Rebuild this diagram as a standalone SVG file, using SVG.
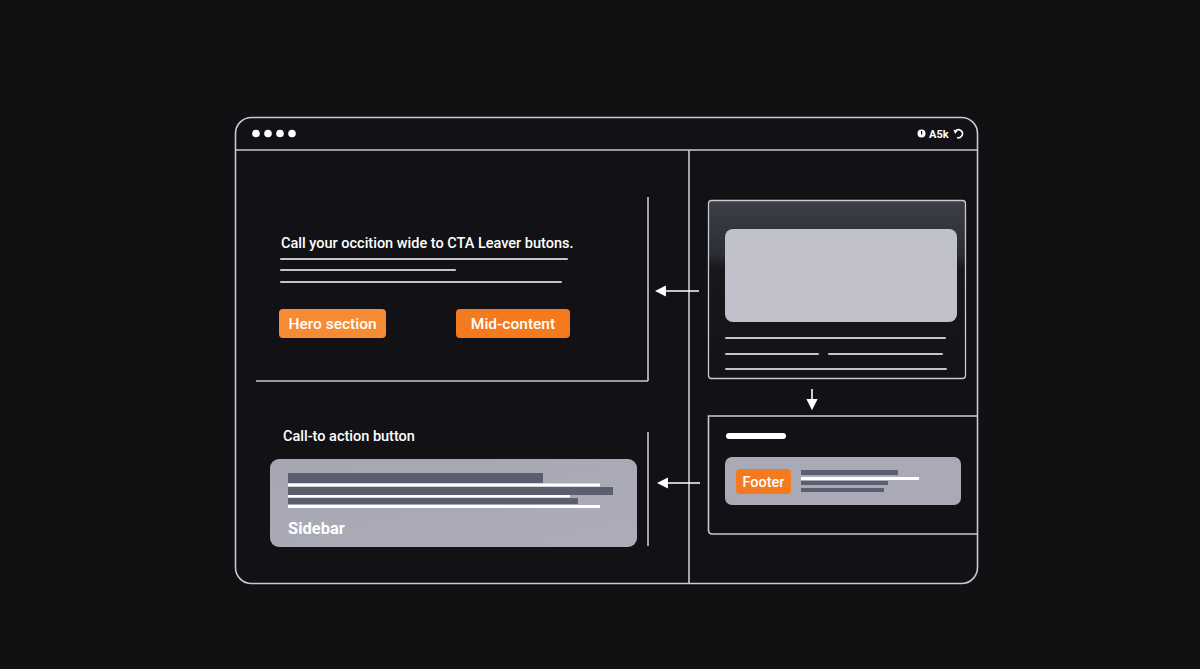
<svg xmlns="http://www.w3.org/2000/svg" width="1200" height="669" viewBox="0 0 1200 669">
<defs>
<style>
.ln{stroke:#c9c9ce;stroke-width:1.6;fill:none}
.tl{stroke:#c4c4ca;stroke-width:2;stroke-linecap:round}
.t{font-family:Roboto,"Liberation Sans",sans-serif;fill:#ffffff;font-weight:500}
.dk{fill:#5b5e6f}
.wh{fill:#ffffff}
</style>
<marker id="ah" viewBox="0 0 10 10" refX="8" refY="5" markerWidth="7" markerHeight="7" orient="auto-start-reverse">
<path d="M0,0 L10,5 L0,10 z" fill="#ffffff"/>
</marker>
<linearGradient id="topg" x1="0" y1="0" x2="0" y2="1">
<stop offset="0" stop-color="#3d3f48"/>
<stop offset="0.3" stop-color="#2c2e35"/>
<stop offset="0.38" stop-color="#17181c"/>
<stop offset="1" stop-color="#131317"/>
</linearGradient>
<linearGradient id="sbg" x1="0" y1="0" x2="1" y2="1">
<stop offset="0" stop-color="#a6a7b3"/>
<stop offset="1" stop-color="#acadb8"/>
</linearGradient>
</defs>
<rect width="1200" height="669" fill="#111114"/>

<g id="frame">
<rect x="235.5" y="117.5" width="742" height="466" rx="16" class="ln" style="fill:#121216"/>
<line x1="235" y1="150" x2="978" y2="150" class="ln"/>
<line x1="689" y1="150" x2="689" y2="584" class="ln"/>
<circle cx="256" cy="133.5" r="3.8" fill="#fff"/>
<circle cx="268" cy="133.5" r="3.8" fill="#fff"/>
<circle cx="280" cy="133.5" r="3.8" fill="#fff"/>
<circle cx="292" cy="133.5" r="3.8" fill="#fff"/>
<circle cx="921.5" cy="133.5" r="4" fill="#fff"/>
<rect x="921" y="131" width="1.2" height="3.5" fill="#121216"/>
<text x="929" y="137.5" class="t" font-size="11" style="font-weight:700">A5k</text>
<path d="M955.5,131 A4,4 0 1 1 957,137.5" stroke="#fff" stroke-width="1.6" fill="none"/>
<path d="M953.5,129.5 L957.5,131 L955,134 z" fill="#fff"/>
</g>

<g id="hero-area">
<line x1="256" y1="381" x2="648" y2="381" class="ln"/>
<line x1="648" y1="197" x2="648" y2="381" class="ln"/>
<text x="281" y="248" class="t" font-size="14.5">Call your occition wide to CTA Leaver butons.</text>
<line x1="281" y1="259" x2="567" y2="259" class="tl"/>
<line x1="281" y1="270" x2="455" y2="270" class="tl"/>
<line x1="281" y1="282" x2="561" y2="282" class="tl"/>
</g>

<g id="hero-section">
<rect x="279" y="309" width="107" height="29" rx="4" fill="#f58b33"/>
<text x="332.5" y="329" class="t" font-size="15.5" text-anchor="middle">Hero section</text>
</g>

<g id="mid-content">
<rect x="456" y="309" width="114" height="29" rx="4" fill="#f47a20"/>
<text x="513" y="329" class="t" font-size="15.5" text-anchor="middle">Mid-content</text>
</g>

<g id="content-panel">
<rect x="708.5" y="200.5" width="257" height="178" rx="3" class="ln" style="fill:url(#topg);stroke-width:1.3"/>
<rect x="725" y="229" width="232" height="93" rx="8" fill="#c0c1cb"/>
<line x1="726" y1="338" x2="945" y2="338" class="tl"/>
<line x1="726" y1="354" x2="818" y2="354" class="tl"/>
<line x1="829" y1="354" x2="942" y2="354" class="tl"/>
<line x1="726" y1="369" x2="946" y2="369" class="tl"/>
</g>

<g id="footer-area">
<path d="M978,416 L708.5,416 L708.5,530 Q708.5,534 712.5,534 L978,534" class="ln"/>
<rect x="726" y="433" width="60" height="6" rx="3" fill="#fff"/>
<rect x="725" y="457" width="236" height="48" rx="7" fill="#a9aab6"/>
<rect x="801" y="470" width="97" height="5" class="dk"/>
<rect x="801" y="477" width="118" height="3" class="wh"/>
<rect x="801" y="481" width="87" height="4" class="dk"/>
<rect x="801" y="488" width="83" height="4" class="dk"/>
</g>

<g id="footer">
<rect x="736" y="469" width="55" height="25" rx="4" fill="#f47a20"/>
<text x="763.5" y="487" class="t" font-size="14.5" text-anchor="middle">Footer</text>
</g>

<g id="cta-area">
<text x="283" y="441" class="t" font-size="14.5">Call-to action button</text>
<line x1="648" y1="432" x2="648" y2="546" class="ln"/>
</g>

<g id="sidebar">
<rect x="270" y="459" width="367" height="88" rx="9" fill="url(#sbg)"/>
<rect x="288" y="473" width="255" height="10" class="dk"/>
<rect x="288" y="483.5" width="312" height="3" class="wh"/>
<rect x="288" y="487" width="325" height="8" class="dk"/>
<rect x="288" y="495" width="282" height="2.5" class="wh"/>
<rect x="288" y="498" width="290" height="6" class="dk"/>
<rect x="288" y="505" width="312" height="3" class="wh"/>
<text x="288" y="534" class="t" font-size="16.5" style="font-weight:700">Sidebar</text>
</g>

<g id="connectors">
<line x1="699" y1="291" x2="657" y2="291" stroke="#fff" stroke-width="1.6" marker-end="url(#ah)"/>
<line x1="700" y1="483" x2="659" y2="483" stroke="#fff" stroke-width="1.6" marker-end="url(#ah)"/>
<line x1="812" y1="389" x2="812" y2="408" stroke="#fff" stroke-width="1.6" marker-end="url(#ah)"/>
</g>
</svg>
